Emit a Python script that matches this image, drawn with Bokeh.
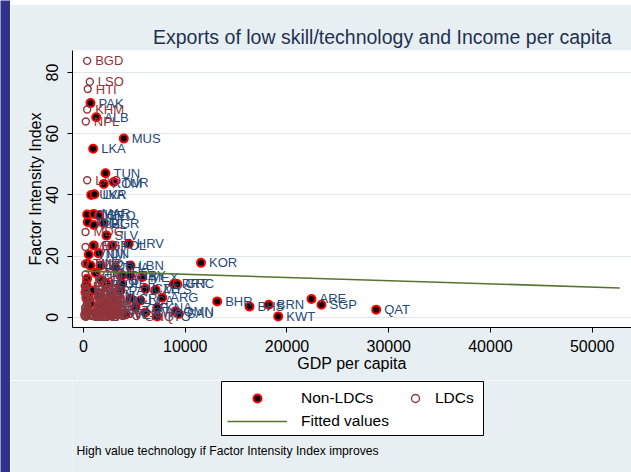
from bokeh.plotting import figure
from bokeh.models import ColumnDataSource, FixedTicker, Legend, LegendItem, Label, Range1d, BoxAnnotation
from bokeh.layouts import row, column
from bokeh.embed import file_html
from bokeh.resources import INLINE
from bokeh.core.properties import value

FONT = "Liberation Sans"
BG = "#e8eff2"
STRIP = "#33328a"
NAVY = "#26497a"
MAROON = "#90353b"
FIT = "#55752f"

# ---- data ----
non_ldc_codes = ["PAK", "ALB", "MUS", "LKA", "TUN", "ROM", "TUR", "UKR", "LVA", "CHN",
                 "MAR", "GEO", "IND", "PHL", "BGR", "SLV", "HRV", "EGY", "POL", "VNM",
                 "IDN", "JOR", "HND", "NIC", "THA", "LBN", "KEN", "BRA", "URY", "MEX",
                 "PER", "PRT", "GRC", "CZE", "MYS", "ARG", "BHR", "BHS", "BRN", "KWT",
                 "ARE", "SGP", "QAT", "KOR", "KNA", "OMN", "SAU", "TTO", "ZAF", "BWA",
                 "CRI", "PAN", "JAM", "DZA", "GTM", "CMR", "GHA", "PRY", "KAZ", "VEN",
                 "CIV", "BOL", "SYR", "LCA", "NGA", "PNG", "ZWE", "ECU", "COL", "TKM"]
non_ldc_gdp = [690, 1250, 3960, 950, 2160, 2000, 2980, 760, 1080, 360,
               1010, 1500, 420, 1010, 1940, 2260, 4450, 1010, 2820, 520,
               1500, 1670, 360, 690, 3150, 4620, 360, 3800, 4620, 5770,
               3800, 8880, 9210, 6090, 7080, 7740, 13140, 16320, 18210, 19140,
               22410, 23390, 28770, 11550, 7240, 9040, 9370, 7240, 5110, 6090,
               4620, 3640, 2650, 2160, 1470, 880, 300, 1670, 3150, 4130,
               690, 1180, 2650, 5600, 490, 200, 360, 1800, 2300, 1200]
non_ldc_fii = [70.0, 65.4, 58.4, 55.1, 47.1, 43.6, 44.2, 40.0, 40.2, 33.6,
               33.8, 33.3, 31.1, 30.2, 30.8, 26.7, 24.0, 23.5, 23.5, 20.5,
               20.9, 16.9, 17.5, 16.9, 16.2, 16.9, 12.6, 13.7, 13.7, 13.1,
               10.9, 10.9, 10.9, 9.3, 9.0, 6.4, 5.2, 3.5, 4.1, 0.3,
               6.0, 4.1, 2.5, 17.8, 3.1, 2.0, 1.1, 0.3, 3.3, 1.6,
               6.1, 8.8, 5.5, 3.9, 6.8, 8.8, 10.4, 3.5, 2.2, 0.9,
               4.5, 1.6, 1.2, 5.5, 6.8, 8.2, 6.0, 12.0, 11.0, 14.5]

ldc_codes = ["BGD", "LSO", "HTI", "KHM", "NPL", "LAO", "MDG", "MWI", "TMP", "SOM",
             "MOZ", "ETH", "UGA", "TZA", "MLI", "SEN", "BFA", "MMR", "YEM", "MRT",
             "TGO", "BEN", "GIN", "SLE", "ZMB", "NER", "RWA", "GMB", "SDN", "AGO",
             "BDI", "CAF", "TCD", "ERI", "MDV", "VUT", "WSM", "CPV", "BTN", "DJI",
             "COM", "SLB", "KIR", "GNQ", "STP", "GNB", "LBR", "COD", "AFG"]
ldc_gdp = [360, 620, 420, 360, 230, 360, 200, 200, 150, 200,
           250, 120, 260, 280, 270, 480, 230, 200, 550, 420,
           330, 380, 400, 180, 330, 180, 240, 300, 400, 700,
           110, 250, 220, 180, 2200, 1300, 1400, 1300, 700, 850,
           400, 600, 550, 5200, 350, 170, 130, 100, 200]
ldc_fii = [83.8, 77.0, 74.6, 67.9, 64.0, 44.8, 27.9, 23.0, 17.5, 14.0,
           11.5, 10.2, 9.5, 8.8, 8.0, 7.5, 7.0, 6.2, 5.8, 5.3,
           4.8, 4.2, 3.6, 3.0, 2.5, 2.0, 1.6, 1.2, 0.9, 0.6,
           0.4, 0.3, 0.2, 0.5, 1.4, 2.2, 3.8, 5.5, 1.0, 0.4,
           2.8, 1.9, 0.7, 0.4, 1.5, 3.2, 0.8, 1.1, 9.0]

fit_gdp = [100, 52700]
fit_fii = [15.1, 9.6]

x_ticks = [0, 10000, 20000, 30000, 40000, 50000]
y_ticks = [0, 20, 40, 60, 80]

title_text = "Exports of low skill/technology and Income per capita"
x_label = "GDP per capita"
y_label = "Factor Intensity Index"
legend_labels = ["Non-LDCs", "LDCs", "Fitted values"]
caption_text = "High value technology if Factor Intensity Index improves"

# ---- main figure ----
p = figure(width=621, height=376, x_range=Range1d(-1080, 53860), y_range=Range1d(-3.33, 87.19),
           output_backend="svg", toolbar_location=None,
           min_border_left=62, min_border_right=0, min_border_top=46, min_border_bottom=53,
           background_fill_color="white", border_fill_color=BG, outline_line_color=None)

p.title.text = title_text
p.title.align = "right"
p.title.offset = 20
p.title.standoff = 6
p.title.text_font = FONT
p.title.text_font_size = "19.5px"
p.title.text_font_style = "normal"
p.title.text_color = "#1f3152"

p.xaxis.ticker = FixedTicker(ticks=x_ticks)
p.yaxis.ticker = FixedTicker(ticks=y_ticks)
p.xaxis.axis_label = x_label
p.yaxis.axis_label = y_label
for ax in p.axis:
    ax.axis_label_text_font = FONT
    ax.axis_label_text_font_size = "16px"
    ax.axis_label_text_font_style = "normal"
    ax.axis_label_text_color = "black"
    ax.major_label_text_font = FONT
    ax.major_label_text_font_size = "16px"
    ax.major_label_text_color = "black"
    ax.major_tick_out = 5
    ax.major_tick_in = 0
    ax.minor_tick_out = 0
    ax.minor_tick_in = 0
    ax.axis_line_color = "black"
    ax.major_tick_line_color = "black"
p.yaxis.major_label_orientation = "vertical"
p.yaxis.major_label_standoff = 9
p.yaxis.axis_label_standoff = 0
p.xaxis.major_label_standoff = 7
p.xaxis.axis_label_standoff = 0
p.xgrid.visible = False
p.ygrid.grid_line_color = "#dce6eb"
p.ygrid.grid_line_width = 1

src_n = ColumnDataSource(dict(x=non_ldc_gdp, y=non_ldc_fii, code=non_ldc_codes))
src_l = ColumnDataSource(dict(x=ldc_gdp, y=ldc_fii, code=ldc_codes))

NON_STYLE = dict(size=8, fill_color="black", line_color="#ff0000", line_width=2)
LDC_STYLE = dict(size=7, fill_color=None, line_color=MAROON, line_width=1.4)
FIT_STYLE = dict(line_color=FIT, line_width=1.6)

p.scatter("x", "y", source=src_n, **NON_STYLE)
p.text("x", "y", text="code", source=src_n, x_offset=8, text_baseline="middle", text_align="left",
       text_font=value(FONT), text_font_size="13px", text_color=NAVY)
p.scatter("x", "y", source=src_l, **LDC_STYLE)
p.text("x", "y", text="code", source=src_l, x_offset=8, text_baseline="middle", text_align="left",
       text_font=value(FONT), text_font_size="13px", text_color=MAROON)
p.line(fit_gdp, fit_fii, **FIT_STYLE)

# ---- bottom panel: legend and note (ranges in pixels of the page, frame aligned with plot) ----
b = figure(width=621, height=92, x_range=Range1d(72, 631), y_range=Range1d(0, 92),
           output_backend="svg", toolbar_location=None, min_border=0,
           x_axis_location=None, y_axis_location=None,
           background_fill_color=BG, border_fill_color=BG, outline_line_color=None)
b.grid.visible = False

b.add_layout(BoxAnnotation(left=221, right=483, bottom=37, top=91, fill_color="white", fill_alpha=1.0,
                           line_color="black", line_width=1, line_alpha=1.0))

# swatch renderers for the legend, with their single point kept outside the visible range
off = dict(x=[100], y=[-50])
lr_n = b.scatter("x", "y", source=ColumnDataSource(off), **NON_STYLE)
lr_l = b.scatter("x", "y", source=ColumnDataSource(off), **LDC_STYLE)
lr_f = b.line("x", "y", source=ColumnDataSource(off), **FIT_STYLE)

common = dict(orientation="vertical", glyph_height=20, label_height=20, spacing=3, padding=0, margin=0,
              border_line_color=None, background_fill_alpha=0.0,
              label_text_font=FONT, label_text_font_size="15.5px", label_text_color="black")
leg_a = Legend(items=[LegendItem(label=legend_labels[0], renderers=[lr_n]),
                      LegendItem(label=legend_labels[2], renderers=[lr_f])],
               location=(155, 41), glyph_width=60, label_standoff=14, **common)
leg_b = Legend(items=[LegendItem(label=legend_labels[1], renderers=[lr_l])],
               location=(333, 64), glyph_width=20, label_standoff=10, **common)
b.add_layout(leg_a, "center")
b.add_layout(leg_b, "center")

b.add_layout(Label(x=76, y=22, text=caption_text, text_baseline="middle", text_align="left",
                   text_font=FONT, text_font_size="12.2px", text_color="black"))

# ---- decorative strips of the slide background ----
left = figure(width=10, height=472, output_backend="svg", toolbar_location=None, min_border=0,
              x_axis_location=None, y_axis_location=None, background_fill_color=STRIP,
              border_fill_color=STRIP, outline_line_color=None)
left.grid.visible = False
top = figure(width=621, height=4, output_backend="svg", toolbar_location=None, min_border=0,
             x_axis_location=None, y_axis_location=None, background_fill_color="#2b2870",
             border_fill_color="#2b2870", outline_line_color=None)
top.grid.visible = False

layout = row(left, column(top, p, b, spacing=0), spacing=0)
open("out.html", "w").write(file_html(layout, INLINE))
